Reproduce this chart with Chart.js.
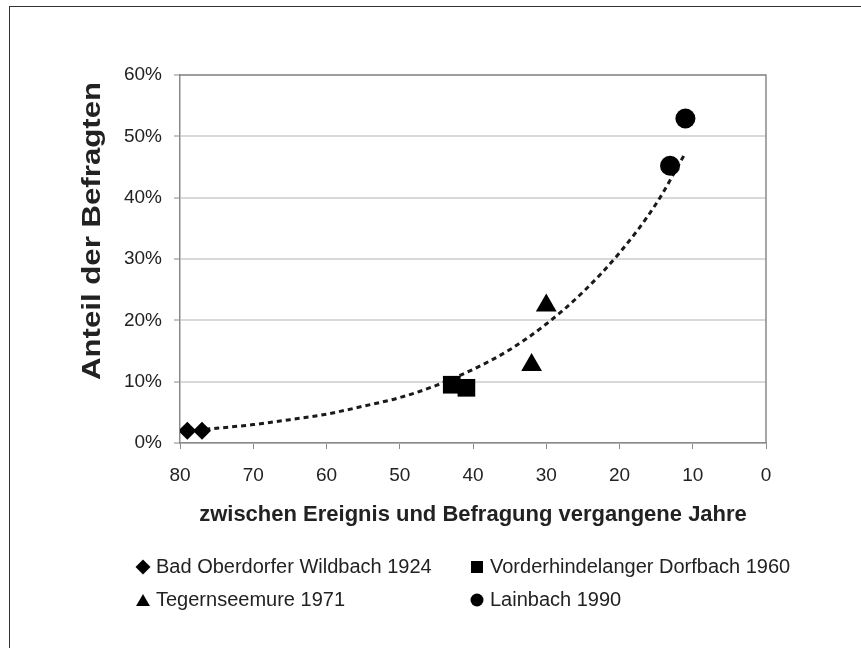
<!DOCTYPE html>
<html>
<head>
<meta charset="utf-8">
<script src="https://cdn.jsdelivr.net/npm/chart.js@4/dist/chart.umd.min.js"></script>
<style>
  html, body { margin: 0; padding: 0; background: #fff; }
  #wrap { position: relative; width: 861px; height: 648px; }
  #frame { position: absolute; left: 9px; top: 6px; right: 0; bottom: 0;
           border-left: 1px solid #333; border-top: 1px solid #333; pointer-events: none; }
  canvas { position: absolute; left: 0; top: 0; }
</style>
</head>
<body>
<div id="wrap">
  <canvas id="c" width="861" height="648"></canvas>
  <div id="frame"></div>
</div>
<script>
// ---- data ----
const seriesNames = ['Bad Oberdorfer Wildbach 1924', 'Vorderhindelanger Dorfbach 1960', 'Tegernseemure 1971', 'Lainbach 1990'];
const oberdorferYears = [79, 77];
const oberdorferShare = [2.0, 2.0];
const vorderhindelangYears = [42.9, 40.9];
const vorderhindelangShare = [9.5, 9.0];
const tegernseeYears = [32, 30];
const tegernseeShare = [12.7, 22.4];
const lainbachYears = [13.1, 11.0];
const lainbachShare = [45.2, 52.9];
// dotted trend curve
const trendYears = [79, 75, 70, 65, 60, 55, 50, 45, 40, 35, 30, 25, 20, 15, 11];
const trendShare = [2.0, 2.4, 3.0, 3.8, 4.7, 6.0, 7.4, 9.4, 12.0, 15.2, 19.4, 24.6, 31.0, 39.0, 47.3];
const xTicks = [80, 70, 60, 50, 40, 30, 20, 10, 0];
const yTicks = [0, 10, 20, 30, 40, 50, 60];
const xTitle = 'zwischen Ereignis und Befragung vergangene Jahre';
const yTitle = 'Anteil der Befragten';

const FONT = '"Liberation Sans", Arial, sans-serif';
const pts = (xs, ys) => xs.map((x, i) => ({ x: x, y: ys[i] }));

const markerStyles = [
  { pointStyle: 'rectRot', pointRadius: 9, legendRadius: 7.5 },
  { pointStyle: 'rect', pointRadius: 12.5, legendRadius: 8.5 },
  { pointStyle: 'triangle', pointRadius: 12, legendRadius: 8 },
  { pointStyle: 'circle', pointRadius: 10, legendRadius: 6.5 }
];
const seriesData = [
  pts(oberdorferYears, oberdorferShare),
  pts(vorderhindelangYears, vorderhindelangShare),
  pts(tegernseeYears, tegernseeShare),
  pts(lainbachYears, lainbachShare)
];

const datasets = seriesNames.map((name, i) => ({
  label: name,
  data: seriesData[i],
  pointStyle: markerStyles[i].pointStyle,
  pointRadius: markerStyles[i].pointRadius,
  pointHoverRadius: markerStyles[i].pointRadius,
  backgroundColor: '#000',
  borderColor: '#000',
  borderWidth: 0,
  showLine: false,
  legendRadius: markerStyles[i].legendRadius
}));
datasets.push({
  label: 'Trend',
  data: pts(trendYears, trendShare),
  showLine: true,
  pointRadius: 0,
  borderColor: '#1a1a1a',
  borderWidth: 3,
  borderDash: [5, 4],
  cubicInterpolationMode: 'monotone',
  fill: false,
  isTrend: true
});

// plot-area frame (top + right sides)
const frameBox = {
  id: 'frameBox',
  beforeDatasetsDraw(chart) {
    const { ctx, chartArea: a } = chart;
    ctx.save();
    ctx.strokeStyle = '#8a8a8a';
    ctx.lineWidth = 1.5;
    ctx.beginPath();
    ctx.moveTo(a.left, a.top);
    ctx.lineTo(a.right, a.top);
    ctx.lineTo(a.right, a.bottom);
    ctx.stroke();
    ctx.restore();
  }
};

// vertical axis title, a little stretched along its length like the scan
const yAxisTitle = {
  id: 'yAxisTitle',
  afterDraw(chart) {
    const { ctx } = chart;
    ctx.save();
    ctx.translate(93, 231);
    ctx.rotate(-Math.PI / 2);
    ctx.scale(1.2, 1);
    ctx.font = 'bold 26px ' + FONT;
    ctx.fillStyle = '#222';
    ctx.textAlign = 'center';
    ctx.textBaseline = 'middle';
    ctx.fillText(yTitle, 0, 0);
    ctx.restore();
  }
};

// two-column legend below the axis title
const gridLegend = {
  id: 'gridLegend',
  afterDraw(chart) {
    const { ctx } = chart;
    const colX = [143, 477];
    const rowY = [567, 600];
    ctx.save();
    ctx.font = '20px ' + FONT;
    ctx.textBaseline = 'middle';
    ctx.textAlign = 'left';
    chart.data.datasets.forEach((ds, i) => {
      if (ds.isTrend) return;
      const x = colX[i % 2], y = rowY[Math.floor(i / 2)];
      ctx.fillStyle = '#000';
      ctx.strokeStyle = '#000';
      ctx.lineWidth = 0;
      Chart.helpers.drawPoint(ctx, { pointStyle: ds.pointStyle, radius: ds.legendRadius, rotation: 0, borderWidth: 0 }, x, y + (ds.pointStyle === 'triangle' ? 2 : 0));
      ctx.fillStyle = '#222';
      ctx.fillText(ds.label, x + 13, y);
    });
    ctx.restore();
  }
};

new Chart(document.getElementById('c'), {
  type: 'scatter',
  data: { datasets },
  plugins: [frameBox, yAxisTitle, gridLegend],
  options: {
    responsive: false,
    devicePixelRatio: 1,
    animation: false,
    layout: { padding: { left: 76, top: 75, right: 95, bottom: 120 } },
    plugins: { legend: { display: false }, tooltip: { enabled: false } },
    scales: {
      x: {
        type: 'linear',
        reverse: true,
        min: 0, max: 80,
        afterFit(scale) { scale.height = 85; },
        afterBuildTicks(scale) { scale.ticks = xTicks.map(v => ({ value: v })); },
        ticks: { color: '#222', font: { family: FONT, size: 19 }, padding: 15, maxRotation: 0 },
        grid: { drawOnChartArea: false, drawTicks: true, tickLength: 6, color: '#8a8a8a', lineWidth: 1 },
        border: { display: true, color: '#8a8a8a', width: 1.5 },
        title: { display: true, text: xTitle, color: '#222', padding: 0,
                 font: { family: FONT, size: 22, weight: 'bold' } }
      },
      y: {
        type: 'linear',
        min: 0, max: 60,
        afterFit(scale) { scale.width = 104; },
        afterBuildTicks(scale) { scale.ticks = yTicks.map(v => ({ value: v })); },
        ticks: { color: '#222', font: { family: FONT, size: 19 }, padding: 12,
                 callback: v => v + '%' },
        grid: { color: '#d9d9d9', lineWidth: 2, tickLength: 6, tickColor: '#8a8a8a', tickWidth: 1 },
        border: { display: true, color: '#8a8a8a', width: 1.5 },
        title: { display: false }
      }
    }
  }
});
</script>
</body>
</html>
